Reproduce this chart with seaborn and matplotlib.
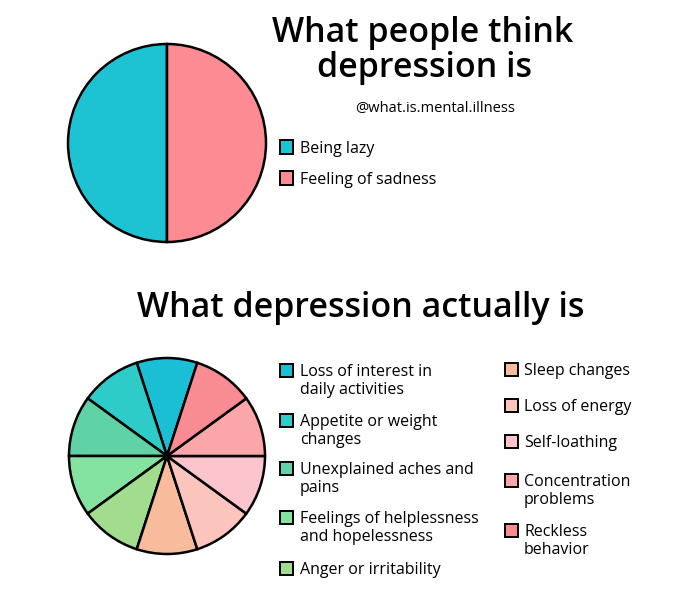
import matplotlib.pyplot as plt
from matplotlib.patches import Rectangle
import seaborn as sns

# dados
think_labels = ["Being lazy", "Feeling of sadness"]
think_values = [1, 1]
think_colors = ["#1EC3D3", "#FC8B94"]

actual_labels = [
    "Loss of interest in\ndaily activities",
    "Appetite or weight\nchanges",
    "Unexplained aches and\npains",
    "Feelings of helplessness\nand hopelessness",
    "Anger or irritability",
    "Sleep changes",
    "Loss of energy",
    "Self-loathing",
    "Concentration\nproblems",
    "Reckless\nbehavior",
]
actual_values = [1, 1, 1, 1, 1, 1, 1, 1, 1, 1]
actual_colors = [
    "#1ABFD6", "#2ECCC9", "#5FD3A5", "#84E3A1", "#A2DC8E",
    "#F8BC9C", "#FBC4BC", "#FCC4CC", "#FBA6A8", "#F98B92",
]

sns.set_theme(style="white")
plt.rcParams['font.family'] = ['Open Sans', 'DejaVu Sans']
plt.rcParams['text.color'] = 'black'

W, H = 700, 595
fig = plt.figure(figsize=(7, 5.95), dpi=100)
fig.patch.set_facecolor("white")


def px(x, y):
    # pixel (topo-esquerda) -> fração da figura
    return x / W, 1 - y / H


def pie_axes(cx, cy, r):
    m = 1.02
    ax = fig.add_axes([(cx - r * m) / W, 1 - (cy + r * m) / H, 2 * r * m / W, 2 * r * m / H])
    return ax, m


# gráfico de cima
ax1, m = pie_axes(167, 143, 99)
ax1.pie(think_values, colors=think_colors, startangle=90, counterclock=True,
        wedgeprops=dict(edgecolor="black", linewidth=1.8))
ax1.set_xlim(-m, m)
ax1.set_ylim(-m, m)
ax1.set_aspect("equal")
ax1.axis("off")

# gráfico de baixo
ax2, m = pie_axes(167, 456, 98)
ax2.pie(actual_values, colors=actual_colors, startangle=72, counterclock=True,
        wedgeprops=dict(edgecolor="black", linewidth=1.8))
ax2.set_xlim(-m, m)
ax2.set_ylim(-m, m)
ax2.set_aspect("equal")
ax2.axis("off")

# títulos
fig.text(*px(423, 42), "What people think", ha="center", va="baseline", fontsize=24.5, fontweight="semibold")
fig.text(*px(424, 77), "depression is", ha="center", va="baseline", fontsize=24.5, fontweight="semibold")
fig.text(*px(435, 112), "@what.is.mental.illness", ha="center", va="baseline", fontsize=10.5, fontweight="medium")
fig.text(*px(361, 317), "What depression actually is", ha="center", va="baseline", fontsize=24.5, fontweight="semibold")


def legenda(x_sq, x_txt, y, label, color):
    fig.patches.append(Rectangle(px(x_sq, y + 6.5), 13 / W, 13 / H, transform=fig.transFigure,
                                 facecolor=color, edgecolor="black", linewidth=1.4, figure=fig))
    for i, linha in enumerate(label.split("\n")):
        fig.text(*px(x_txt, y + i * 18), linha, ha="left", va="center_baseline",
                 fontsize=11.5, fontweight="medium")


think_y = [147, 178]
for lab, col, y in zip(think_labels, think_colors, think_y):
    legenda(280, 300, y, lab, col)

left_y = [370, 420, 468, 517, 568]
right_y = [369, 405, 441, 480, 530]
for i, (lab, col) in enumerate(zip(actual_labels, actual_colors)):
    if i < 5:
        legenda(280, 300, left_y[i], lab, col)
    else:
        legenda(505, 524, right_y[i - 5], lab, col)

plt.savefig("out.png", dpi=100)
